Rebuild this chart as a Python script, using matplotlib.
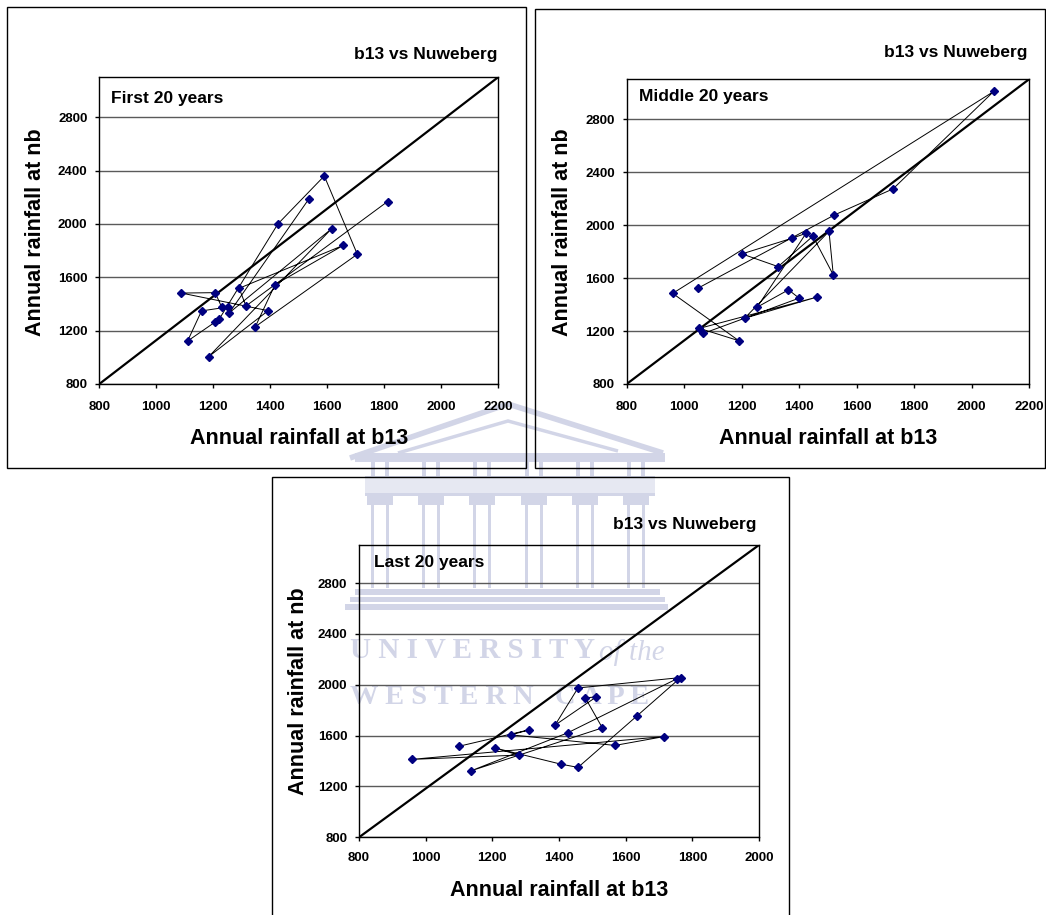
import matplotlib.pyplot as plt
from matplotlib.patches import Rectangle, Polygon

plt.rcParams["font.family"] = ["Liberation Sans", "DejaVu Sans"]
plt.rcParams["font.weight"] = "bold"

W, H = 1046, 915

# annual rainfall (mm), in plotting order
first_b13 = [1536, 1256, 1616, 1184, 1393, 1088, 1207, 1230, 1252, 1159, 1110,
             1207, 1222, 1427, 1590, 1706, 1348, 1417, 1657, 1291, 1315, 1812]
first_nb = [2188, 1333, 1965, 1005, 1350, 1482, 1485, 1375, 1378, 1348, 1122,
            1265, 1290, 2000, 2360, 1773, 1230, 1545, 1840, 1518, 1385, 2168]

middle_b13 = [1047, 1523, 1727, 2077, 960, 1190, 1053, 1462, 1210, 1504,
              1519, 1448, 1327, 1201, 1376, 1424, 1254, 1363, 1400, 1067]
middle_nb = [1522, 2076, 2273, 3008, 1484, 1127, 1220, 1456, 1296, 1952,
             1623, 1916, 1686, 1782, 1901, 1937, 1380, 1511, 1448, 1182]

last_b13 = [1101, 1311, 1256, 1568, 1716, 958, 1279, 1209, 1405, 1457,
            1633, 1765, 1457, 1388, 1512, 1479, 1530, 1137, 1426, 1755]
last_nb = [1517, 1646, 1606, 1523, 1593, 1413, 1447, 1502, 1376, 1350,
           1753, 2057, 1975, 1682, 1905, 1897, 1661, 1324, 1622, 2049]

y_min, y_max = 800, 3100
y_ticks = [800, 1200, 1600, 2000, 2400, 2800]


def fx(x):
    return x / W


def fy(y):
    return 1 - y / H


fig = plt.figure(figsize=(W / 100, H / 100), dpi=100)


def wm_rect(x0, y0, x1, y1, color):
    fig.patches.append(Rectangle((fx(x0), fy(y1)), fx(x1) - fx(x0), fy(y0) - fy(y1),
                                 fc=color, ec="none", transform=fig.transFigure, zorder=-5))


# faint university watermark behind everything
wm = "#d2d5e7"
wm_light = "#e6e8f2"
fig.patches.append(Polygon([(fx(350), fy(458)), (fx(508), fy(404)), (fx(663), fy(453))],
                           closed=False, fill=False, ec=wm, lw=4, transform=fig.transFigure, zorder=-5))
fig.patches.append(Polygon([(fx(398), fy(453)), (fx(508), fy(421)), (fx(618), fy(451))],
                           closed=False, fill=False, ec=wm, lw=2.5, transform=fig.transFigure, zorder=-5))
wm_rect(355, 453, 665, 462, wm)
wm_rect(365, 477, 655, 495, wm_light)
wm_rect(365, 476, 655, 478, wm)
wm_rect(365, 493, 655, 496, wm)
for cx in [380, 431, 482, 534, 585, 636]:
    wm_rect(cx - 13, 496, cx + 13, 505, wm)
    wm_rect(cx - 9, 462, cx - 5, 477, wm)
    wm_rect(cx + 5, 462, cx + 9, 477, wm)
    wm_rect(cx - 9, 505, cx - 6, 588, wm)
    wm_rect(cx + 6, 505, cx + 9, 588, wm)
wm_rect(355, 589, 660, 595, wm)
wm_rect(350, 597, 665, 602, wm)
wm_rect(345, 604, 668, 610, wm)
serif = ["Liberation Serif", "DejaVu Serif"]
fig.text(fx(350), fy(651), "U N I V E R S I T Y", family=serif, fontweight="bold",
         fontsize=21, color=wm, va="center", ha="left", zorder=-5)
fig.text(fx(665), fy(653), "of the", family=serif, fontweight="normal", style="italic",
         fontsize=21, color=wm, va="center", ha="right", zorder=-5)
fig.text(fx(350), fy(698), "W E S T E R N   C A P E", family=serif, fontweight="bold",
         fontsize=20.5, color=wm, va="center", ha="left", zorder=-5)

panels = [
    dict(box=(7, 7, 525.5, 467.5), ax=(99.3, 77.3, 498, 384), xmax=2200,
         title=(497, 55), tag=(111, 99), ylab=(36, 232), xlab=(298.7, 438),
         name="First 20 years", x=first_b13, y=first_nb, xpad=9),
    dict(box=(535.3, 9.3, 1045, 468), ax=(626.7, 79.3, 1029, 384), xmax=2200,
         title=(1027, 52), tag=(638.7, 97), ylab=(563, 232), xlab=(828, 438),
         name="Middle 20 years", x=middle_b13, y=middle_nb, xpad=9),
    dict(box=(272, 477.3, 789.5, 925), ax=(359, 545, 759, 837.3), xmax=2000,
         title=(756.7, 524), tag=(374, 562), ylab=(298, 691), xlab=(559, 890),
         name="Last 20 years", x=last_b13, y=last_nb, xpad=7.5),
]

for p in panels:
    x0, y0, x1, y1 = p["box"]
    fig.patches.append(Rectangle((fx(x0), fy(y1)), fx(x1) - fx(x0), fy(y0) - fy(y1),
                                 fill=False, ec="black", lw=1, transform=fig.transFigure, zorder=1))

    l, t, r, b = p["ax"]
    ax = fig.add_axes([fx(l), fy(b), fx(r) - fx(l), fy(t) - fy(b)])
    ax.set_facecolor("none")

    ax.plot([800, p["xmax"]], [y_min, y_max], color="black", lw=1.6, zorder=3)
    ax.plot(p["x"], p["y"], color="black", lw=0.7, marker="D", ms=3.6,
            mfc="#000080", mec="#000080", zorder=4)

    ax.set_xlim(800, p["xmax"])
    ax.set_ylim(y_min, y_max)
    ax.set_xticks(range(800, p["xmax"] + 1, 200))
    ax.set_yticks(y_ticks)
    ax.yaxis.grid(True, color="#5a5a5a", lw=1.0)
    ax.set_axisbelow(True)
    ax.tick_params(axis="both", direction="out", length=3, width=1, labelsize=9.5)
    ax.tick_params(axis="x", pad=p["xpad"])
    ax.tick_params(axis="y", pad=5.5)
    for s in ax.spines.values():
        s.set_linewidth(1)
        s.set_color("black")

    ax.text((p["tag"][0] - l) / (r - l), (p["tag"][1] - b) / (t - b), p["name"],
            transform=ax.transAxes, fontsize=12.5, ha="left", va="center")
    fig.text(fx(p["title"][0]), fy(p["title"][1]), "b13 vs Nuweberg",
             fontsize=12.5, ha="right", va="center")
    fig.text(fx(p["ylab"][0]), fy(p["ylab"][1]), "Annual rainfall at nb",
             fontsize=15.5, rotation=90, ha="center", va="center")
    fig.text(fx(p["xlab"][0]), fy(p["xlab"][1]), "Annual rainfall at b13",
             fontsize=15.5, ha="center", va="center")

fig.savefig("out.png", dpi=100)
